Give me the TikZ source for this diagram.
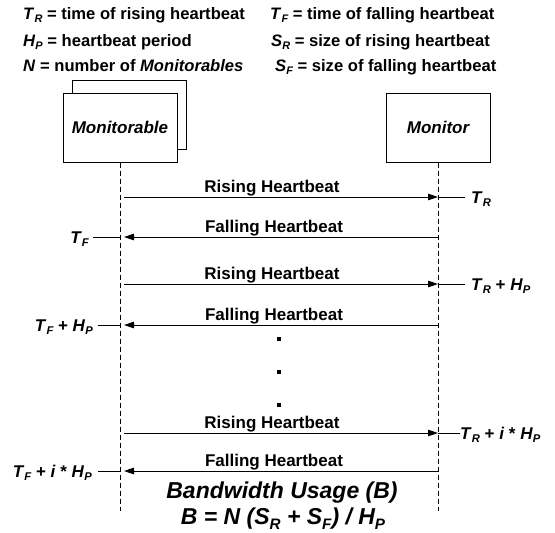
\documentclass[tikz,border=0pt]{standalone}
\usepackage{fontspec}
\setmainfont{Liberation Sans}
\usepackage{graphicx}
\usetikzlibrary{arrows.meta}
\newcommand\lsub[1]{\raisebox{-0.42ex}{\scalebox{0.66}{\itshape #1}}}
\newcommand\sym[2]{\textit{#1}\lsub{#2}}
\tikzset{
  txt/.style={font=\fontsize{17}{17}\selectfont\bfseries, inner sep=0pt},
  leg/.style={font=\fontsize{16.6}{17}\selectfont\bfseries, inner sep=0pt, anchor=base west},
  big/.style={font=\fontsize{23}{23}\selectfont\bfseries\itshape, inner sep=0pt},
  box/.style={draw, line width=0.8pt, fill=white, inner sep=0pt},
  life/.style={dash pattern=on 5pt off 3pt, line width=0.7pt},
  msg/.style={line width=0.8pt, -{Triangle[length=10pt,width=6.5pt]}},
  ext/.style={line width=0.8pt},
  dotbox/.style={fill, rectangle, minimum size=4pt, inner sep=0pt},
}
\begin{document}
\begin{tikzpicture}[x=1pt,y=-1pt]
\useasboundingbox (0,0) rectangle (555,533);
% legend
\node[leg] (l1) at (23,19) {\sym{T}{R} = time of rising heartbeat};
\node[leg] (l2) at (23,46) {\sym{H}{P} = heartbeat period};
\node[leg] (l3) at (23,71) {\textit{N} = number of \textit{Monitorables}};
\node[leg] (r1) at (270,19) {\sym{T}{F} = time of falling heartbeat};
\node[leg] (r2) at (271,46) {\sym{S}{R} = size of rising heartbeat};
\node[leg] (r3) at (275,71) {\sym{S}{F} = size of falling heartbeat};
% boxes
\node[box, minimum width=114pt, minimum height=69pt] (back) at (129,114.5) {};
\node[box, minimum width=114pt, minimum height=69pt, font=\fontsize{17}{17}\selectfont\bfseries\itshape] (mble) at (120,127.7) {Monitorable};
\node[box, minimum width=104pt, minimum height=69pt, font=\fontsize{17}{17}\selectfont\bfseries\itshape] (mon) at (438,127.7) {Monitor};
% lifelines
\coordinate (endL) at (120,511);
\coordinate (endR) at (438,511);
\draw[life] (mble.south) -- (endL);
\draw[life] (mon.south) -- (endR);
% rising 1
\coordinate (r1s) at (124,197); \coordinate (r1e) at (438,197); \coordinate (r1x) at (465,197);
\draw[msg] (r1s) -- (r1e);
\draw[ext] (r1e) -- (r1x);
\node[txt, anchor=base west] (tr1) at (471,203) {\sym{T}{R}};
\node[txt, anchor=base] (lr1) at (272,192) {Rising Heartbeat};
% falling 1
\coordinate (f1s) at (438,237); \coordinate (f1e) at (124,237); \coordinate (f1l) at (120,237);
\coordinate (f1x) at (93,237);
\draw[msg] (f1s) -- (f1e);
\draw[ext] (f1l) -- (f1x);
\node[txt, anchor=base east] (tf1) at (89,243) {\sym{T}{F}};
\node[txt, anchor=base] (lf1) at (274,232) {Falling Heartbeat};
% rising 2
\coordinate (r2s) at (124,284); \coordinate (r2e) at (438,284); \coordinate (r2x) at (465,284);
\draw[msg] (r2s) -- (r2e);
\draw[ext] (r2e) -- (r2x);
\node[txt, anchor=base west] (tr2) at (471,290) {\sym{T}{R} + \sym{H}{P}};
\node[txt, anchor=base] (lr2) at (272,279) {Rising Heartbeat};
% falling 2
\coordinate (f2s) at (438,325); \coordinate (f2e) at (124,325); \coordinate (f2l) at (120,325);
\coordinate (f2x) at (98,325);
\draw[msg] (f2s) -- (f2e);
\draw[ext] (f2l) -- (f2x);
\node[txt, anchor=base east] (tf2) at (93,331) {\sym{T}{F} + \sym{H}{P}};
\node[txt, anchor=base] (lf2) at (274,320) {Falling Heartbeat};
% dots
\node[dotbox] (d1) at (279,339) {};
\node[dotbox] (d2) at (279,372) {};
\node[dotbox] (d3) at (279,405) {};
% rising 3
\coordinate (r3s) at (124,433); \coordinate (r3e) at (438,433); \coordinate (r3x) at (460,433);
\draw[msg] (r3s) -- (r3e);
\draw[ext] (r3e) -- (r3x);
\node[txt, anchor=base west] (tr3) at (460,439) {\sym{T}{R} + \textit{i} * \sym{H}{P}};
\node[txt, anchor=base] (lr3) at (272,428) {Rising Heartbeat};
% falling 3
\coordinate (f3s) at (438,471); \coordinate (f3e) at (124,471); \coordinate (f3l) at (120,471);
\coordinate (f3x) at (98,471);
\draw[msg] (f3s) -- (f3e);
\draw[ext] (f3l) -- (f3x);
\node[txt, anchor=base east] (tf3) at (92,477) {\sym{T}{F} + \textit{i} * \sym{H}{P}};
\node[txt, anchor=base] (lf3) at (274,466) {Falling Heartbeat};
% bandwidth
\node[big, anchor=base] (bw) at (282,498) {Bandwidth Usage (B)};
\node[big, anchor=base] (bf) at (283,524) {B = N (S\lsub{R} + S\lsub{F}) / H\lsub{P}};
\end{tikzpicture}
\end{document}
